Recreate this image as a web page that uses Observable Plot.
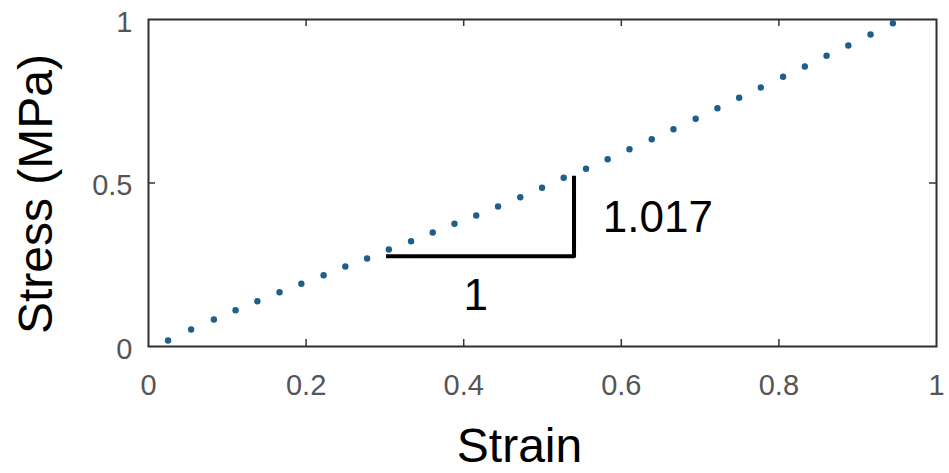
<!DOCTYPE html>
<html>
<head>
<meta charset="utf-8">
<script src="https://cdn.jsdelivr.net/npm/d3@7"></script>
<script src="https://cdn.jsdelivr.net/npm/@observablehq/plot@0.6"></script>
<style>
  html, body { margin: 0; padding: 0; background: #fff; }
  #chart svg { display: block; }
</style>
</head>
<body>
<div id="chart"></div>
<script>
// Measured stress–strain response (dotted curve samples)
const strain = [
  0.0248, 0.0541, 0.0830, 0.1105, 0.1381, 0.1663, 0.1940, 0.2222, 0.2498, 0.2774,
  0.3050, 0.3332, 0.3607, 0.3883, 0.4159, 0.4436, 0.4718, 0.4994, 0.5269, 0.5552,
  0.5827, 0.6104, 0.6386, 0.6662, 0.6944, 0.7220, 0.7496, 0.7771, 0.8053, 0.8329,
  0.8605, 0.8881, 0.9163, 0.9446
];
const stress = [
  0.0183, 0.0520, 0.0826, 0.1110, 0.1385, 0.1660, 0.1917, 0.2180, 0.2446, 0.2691,
  0.2966, 0.3220, 0.3486, 0.3752, 0.4006, 0.4281, 0.4566, 0.4853, 0.5159, 0.5434,
  0.5728, 0.6034, 0.6339, 0.6645, 0.6963, 0.7287, 0.7606, 0.7920, 0.8248, 0.8563,
  0.8890, 0.9205, 0.9541, 0.9887
];

// Slope triangle annotation (rise / run = 1.017)
const triX = [0.304, 0.540, 0.540];
const triY = [0.276, 0.276, 0.516];
const slopeLabel = "1.017";
const runLabel = "1";

// Axis ticks
const xTicks = [0, 0.2, 0.4, 0.6, 0.8, 1];
const xTickLabels = ["0", "0.2", "0.4", "0.6", "0.8", "1"];
const yTicks = [0, 0.5, 1];
const yTickLabels = ["0", "0.5", "1"];

const xTitle = "Strain";
const yTitle = "Stress (MPa)";

const W = 949, H = 473;
const mL = 148, mR = 13, mT = 19, mB = 127;
const innerH = H - mT - mB;
const innerW = W - mL - mR;
const tickLen = 7;
const font = "'Liberation Sans', Arial, Helvetica, sans-serif";

const curve = strain.map((x, i) => ({x, y: stress[i]}));
const tri = triX.map((x, i) => ({x, y: triY[i]}));
const innerX = xTicks.filter(t => t > 0 && t < 1);
const innerY = yTicks.filter(t => t > 0 && t < 1);

const chart = Plot.plot({
  width: W,
  height: H,
  marginLeft: mL,
  marginRight: mR,
  marginTop: mT,
  marginBottom: mB,
  style: {fontFamily: font, background: "#fff"},
  x: {domain: [0, 1], axis: null},
  y: {domain: [0, 1], axis: null},
  marks: [
    // inward ticks on all four sides of the box
    Plot.tickX(innerX, {x: d => d, insetTop: innerH - tickLen, stroke: "#333", strokeWidth: 1.5}),
    Plot.tickX(innerX, {x: d => d, insetBottom: innerH - tickLen, stroke: "#333", strokeWidth: 1.5}),
    Plot.tickY(innerY, {y: d => d, insetRight: innerW - tickLen, stroke: "#333", strokeWidth: 1.5}),
    Plot.tickY(innerY, {y: d => d, insetLeft: innerW - tickLen, stroke: "#333", strokeWidth: 1.5}),
    Plot.frame({stroke: "#2e2e2e", strokeWidth: 2}),
    // tick labels
    Plot.text(xTicks, {x: d => d, text: (d, i) => xTickLabels[i], frameAnchor: "bottom", dy: 39, fontSize: 29, fill: "#555", lineAnchor: "middle"}),
    Plot.text(yTicks, {y: d => d, text: (d, i) => yTickLabels[i], frameAnchor: "left", dx: -16, dy: 3, fontSize: 29, fill: "#555", textAnchor: "end", lineAnchor: "middle"}),
    // axis titles
    Plot.text([xTitle], {text: d => d, frameAnchor: "bottom", dx: -23, dy: 100, fontSize: 48, fill: "#000", lineAnchor: "middle"}),
    Plot.text([yTitle], {text: d => d, frameAnchor: "left", dx: -112, dy: 11, rotate: -90, fontSize: 48, fill: "#000", textAnchor: "middle", lineAnchor: "middle"}),
    // dotted stress–strain curve
    Plot.dot(curve, {x: "x", y: "y", r: 3.2, fill: "#1d5e8a", stroke: "none"}),
    // slope triangle
    Plot.line(tri, {x: "x", y: "y", stroke: "#000", strokeWidth: 4, strokeLinecap: "square"}),
    Plot.text([slopeLabel], {x: 0.5766, y: 0.392, text: d => d, fontSize: 44, fill: "#000", textAnchor: "start", lineAnchor: "middle"}),
    Plot.text([runLabel], {x: 0.4154, y: 0.156, text: d => d, fontSize: 44, fill: "#000", lineAnchor: "middle"})
  ]
});

document.getElementById("chart").appendChild(chart);
</script>
</body>
</html>
